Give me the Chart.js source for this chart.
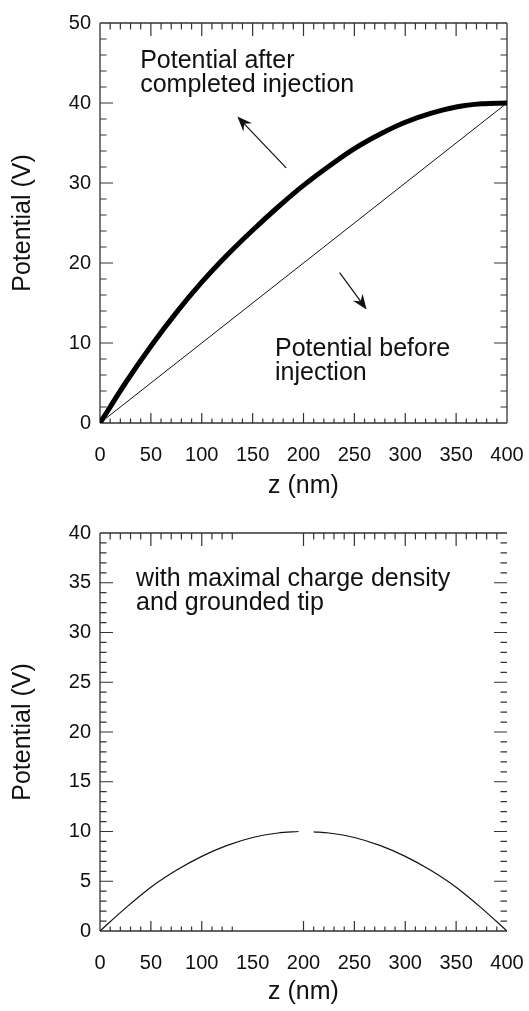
<!DOCTYPE html>
<html>
<head>
<meta charset="utf-8">
<script src="https://cdn.jsdelivr.net/npm/chart.js@4.4.1/dist/chart.umd.min.js"></script>
<style>
  body { margin: 0; background: #fff; }
  canvas { position: absolute; left: 0; }
  #top { top: 0; }
  #bottom { top: 505px; }
</style>
</head>
<body>
<canvas id="top" width="529" height="505"></canvas>
<canvas id="bottom" width="529" height="506"></canvas>
<script>
// top panel: potential after injection (thick) and before injection (thin)
const zAfter = [0, 25, 50, 75, 100, 125, 150, 175, 200, 225, 250, 275, 300, 325, 350, 375, 400];
const vAfter = [0, 5.0, 9.6, 13.8, 17.6, 21.0, 24.1, 27.0, 29.7, 32.1, 34.3, 36.1, 37.6, 38.7, 39.5, 39.9, 40];
const zBefore = [0, 400];
const vBefore = [0, 40];

// bottom panel: maximal charge density, grounded tip (gap near the top as in the scan)
const zCharge = [0, 25, 50, 75, 100, 125, 150, 175, 195, 200, 210, 225, 250, 275, 300, 325, 350, 375, 400];
const vCharge = [0, 2.3, 4.4, 6.1, 7.5, 8.6, 9.4, 9.85, 10, null, 9.97, 9.85, 9.4, 8.6, 7.5, 6.1, 4.4, 2.3, 0];

const xTicks = [0, 50, 100, 150, 200, 250, 300, 350, 400];
const yTicksTop = [0, 10, 20, 30, 40, 50];
const yTicksBottom = [0, 5, 10, 15, 20, 25, 30, 35, 40];

const FONT = '"Liberation Sans", Arial, Helvetica, sans-serif';

function pts(xs, ys) {
  return xs.map((x, i) => ({ x: x, y: ys[i] }));
}

// frame with inward ticks
const frameTicks = {
  id: 'frameTicks',
  beforeDatasetsDraw(chart, args, o) {
    const { ctx, chartArea: a, scales: { x, y } } = chart;
    ctx.save();
    ctx.strokeStyle = '#333';
    ctx.lineWidth = 1.3;
    ctx.beginPath();
    if (o.edges.includes('left')) { ctx.moveTo(a.left, a.top); ctx.lineTo(a.left, a.bottom); }
    if (o.edges.includes('right')) { ctx.moveTo(a.right, a.top); ctx.lineTo(a.right, a.bottom); }
    if (o.edges.includes('top')) { ctx.moveTo(a.left, a.top); ctx.lineTo(a.right, a.top); }
    if (o.edges.includes('bottom')) { ctx.moveTo(a.left, a.bottom); ctx.lineTo(a.right, a.bottom); }
    ctx.stroke();

    ctx.lineWidth = 1.2;
    ctx.beginPath();
    for (let v = x.min + o.xMinor; v < x.max - 0.01; v += o.xMinor) {
      if (o.skip && v > o.skip[0] && v < o.skip[1]) continue;
      const major = o.xMajor.includes(Math.round(v));
      const px = x.getPixelForValue(v);
      ctx.moveTo(px, a.top); ctx.lineTo(px, a.top + (major ? 13 : 6.5));
      ctx.moveTo(px, a.bottom); ctx.lineTo(px, a.bottom - (major ? 10 : 4.5));
    }
    for (let v = y.min + o.yMinor; v < y.max - 0.01; v += o.yMinor) {
      const major = o.yMajor.includes(Math.round(v * 10) / 10);
      const py = y.getPixelForValue(v);
      ctx.moveTo(a.left, py); ctx.lineTo(a.left + (major ? 13 : 6.5), py);
      ctx.moveTo(a.right, py); ctx.lineTo(a.right - (major ? 13 : 6.5), py);
    }
    ctx.stroke();
    ctx.restore();
  }
};

// text notes and arrows, placed in data coordinates
const notes = {
  id: 'notes',
  afterDraw(chart, args, o) {
    const { ctx, scales: { x, y } } = chart;
    ctx.save();
    ctx.fillStyle = '#111';
    ctx.strokeStyle = '#111';
    ctx.font = '25px ' + FONT;
    ctx.textBaseline = 'alphabetic';
    (o.texts || []).forEach(t => {
      const px = x.getPixelForValue(t.z);
      const py = y.getPixelForValue(t.v);
      t.lines.forEach((line, i) => ctx.fillText(line, px, py + i * 24));
    });
    (o.arrows || []).forEach(ar => {
      const x1 = x.getPixelForValue(ar.from[0]), y1 = y.getPixelForValue(ar.from[1]);
      const x2 = x.getPixelForValue(ar.to[0]), y2 = y.getPixelForValue(ar.to[1]);
      const ang = Math.atan2(y2 - y1, x2 - x1);
      const dx = Math.cos(ang), dy = Math.sin(ang);
      const L = 15, W = 6, N = 10;
      ctx.lineWidth = 1.2;
      ctx.beginPath();
      ctx.moveTo(x1, y1);
      ctx.lineTo(x2 - N * dx, y2 - N * dy);
      ctx.stroke();
      ctx.beginPath();
      ctx.moveTo(x2, y2);
      ctx.lineTo(x2 - L * dx - W * dy, y2 - L * dy + W * dx);
      ctx.lineTo(x2 - N * dx, y2 - N * dy);
      ctx.lineTo(x2 - L * dx + W * dy, y2 - L * dy - W * dx);
      ctx.closePath();
      ctx.fill();
    });
    ctx.restore();
  }
};

function makeScales(yMax, yTicks, xHeight) {
  return {
    x: {
      type: 'linear', min: 0, max: 400,
      afterBuildTicks: s => { s.ticks = xTicks.map(v => ({ value: v })); },
      afterFit: s => { s.height = xHeight; s.paddingLeft = 0; s.paddingRight = 0; },
      grid: { display: false, drawTicks: false },
      border: { display: false },
      ticks: { color: '#111', padding: 20, maxRotation: 0, font: { family: FONT, size: 20 } },
      title: { display: true, text: 'z (nm)', color: '#111', padding: { top: 0, bottom: 4 },
               font: { family: FONT, size: 25 } }
    },
    y: {
      type: 'linear', min: 0, max: yMax,
      afterBuildTicks: s => { s.ticks = yTicks.map(v => ({ value: v })); },
      afterFit: s => { s.width = 100; s.paddingTop = 0; s.paddingBottom = 0; },
      grid: { display: false, drawTicks: false },
      border: { display: false },
      ticks: { color: '#111', padding: 9, font: { family: FONT, size: 20 } },
      title: { display: true, text: 'Potential (V)', color: '#111', padding: { top: 8, bottom: 0 },
               font: { family: FONT, size: 25 } }
    }
  };
}

new Chart(document.getElementById('top'), {
  type: 'line',
  data: {
    datasets: [
      { data: pts(zBefore, vBefore), borderColor: '#111', borderWidth: 1, pointRadius: 0 },
      { data: pts(zAfter, vAfter), borderColor: '#000', borderWidth: 5, pointRadius: 0,
        cubicInterpolationMode: 'monotone' }
    ]
  },
  options: {
    responsive: false, animation: false, devicePixelRatio: 1,
    layout: { padding: { top: 23, right: 22, left: 0, bottom: 0 } },
    plugins: {
      legend: { display: false }, tooltip: { enabled: false },
      frameTicks: { edges: ['left', 'right', 'top', 'bottom'], xMinor: 10, yMinor: 2,
                    xMajor: xTicks, yMajor: yTicksTop },
      notes: {
        texts: [
          { z: 39.5, v: 44.4, lines: ['Potential after', 'completed injection'] },
          { z: 172, v: 8.4, lines: ['Potential before', 'injection'] }
        ],
        arrows: [
          { from: [183, 31.9], to: [135, 38.3] },
          { from: [235.5, 18.8], to: [262, 14.2] }
        ]
      }
    },
    scales: makeScales(50, yTicksTop, 82)
  },
  plugins: [frameTicks, notes]
});

new Chart(document.getElementById('bottom'), {
  type: 'line',
  data: {
    datasets: [
      { data: pts(zCharge, vCharge), borderColor: '#111', borderWidth: 1.2, pointRadius: 0,
        cubicInterpolationMode: 'monotone', spanGaps: false }
    ]
  },
  options: {
    responsive: false, animation: false, devicePixelRatio: 1,
    layout: { padding: { top: 28, right: 22, left: 0, bottom: 0 } },
    plugins: {
      legend: { display: false }, tooltip: { enabled: false },
      frameTicks: { edges: ['left', 'top', 'bottom'], xMinor: 10, yMinor: 1,
                    xMajor: xTicks, yMajor: yTicksBottom, skip: [135, 195] },
      notes: {
        texts: [
          { z: 35.5, v: 34.7, lines: ['with maximal charge density', 'and grounded tip'] }
        ]
      }
    },
    scales: makeScales(40, yTicksBottom, 80)
  },
  plugins: [frameTicks, notes]
});
</script>
</body>
</html>
